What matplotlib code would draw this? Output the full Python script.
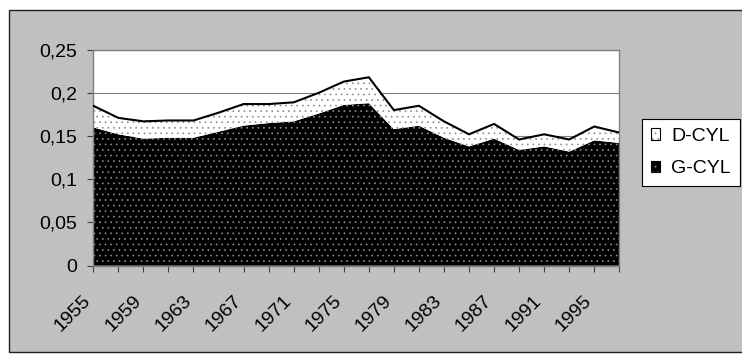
import matplotlib
matplotlib.use("Agg")
import matplotlib.pyplot as plt
import matplotlib.transforms as mtransforms
from matplotlib.patches import Patch, Rectangle
from matplotlib.legend_handler import HandlerTuple
import numpy as np

# every second year, 1955-1997
years = [1955, 1957, 1959, 1961, 1963, 1965, 1967, 1969, 1971, 1973, 1975,
         1977, 1979, 1981, 1983, 1985, 1987, 1989, 1991, 1993, 1995, 1997]

g_cyl = [0.160, 0.152, 0.147, 0.148, 0.148, 0.155, 0.162, 0.165, 0.167, 0.176, 0.186,
         0.188, 0.158, 0.162, 0.148, 0.138, 0.147, 0.134, 0.138, 0.132, 0.145, 0.142]
d_cyl = [0.025, 0.019, 0.020, 0.020, 0.020, 0.022, 0.025, 0.022, 0.022, 0.024, 0.027,
         0.030, 0.022, 0.023, 0.019, 0.014, 0.017, 0.012, 0.014, 0.014, 0.016, 0.012]

y_ticks = [0, 0.05, 0.1, 0.15, 0.2, 0.25]
y_labels = ['0', '0,05', '0,1', '0,15', '0,2', '0,25']

plt.rcParams['font.family'] = ['Liberation Sans', 'DejaVu Sans']
plt.rcParams['font.size'] = 14
plt.rcParams['hatch.color'] = '#8c8c8c'
plt.rcParams['hatch.linewidth'] = 0.5

W, H = 742, 361
fig = plt.figure(figsize=(W / 100, H / 100), dpi=100, facecolor='white')

# grey chart area with a dark frame
fig.add_artist(Rectangle((9 / W, 1 - 352 / H), (W - 9 + 5) / W, (352 - 10) / H,
                         transform=fig.transFigure, facecolor='#c0c0c0',
                         edgecolor='#202020', linewidth=1, zorder=0))

ax = fig.add_axes([93.3 / W, 1 - 265.7 / H, 526 / W, 216.1 / H])
ax.set_facecolor('white')

x = np.arange(len(years))
g = np.array(g_cyl)
total = g + np.array(d_cyl)

ax.fill_between(x, 0, g, facecolor='black', hatch='...', linewidth=0, zorder=2)
ax.fill_between(x, g, total, facecolor='white', hatch='...', linewidth=0, zorder=2)
ax.plot(x, total, color='black', lw=1.5, zorder=3, solid_joinstyle='miter')

ax.set_xlim(0, len(years) - 1)
ax.set_ylim(0, 0.25)
ax.set_yticks(y_ticks)
ax.set_yticklabels(y_labels)
ax.set_xticks(x)
ax.set_xticklabels([str(y) if i % 2 == 0 else '' for i, y in enumerate(years)],
                   rotation=45, ha='right', va='top', rotation_mode='anchor')

ax.yaxis.grid(True, color='#808080', lw=0.8)
ax.set_axisbelow(True)
for s in ax.spines.values():
    s.set_color('#808080')
    s.set_linewidth(1)

ax.tick_params(axis='y', direction='out', length=4, width=0.8, color='#404040', pad=7.7)
ax.tick_params(axis='x', direction='out', length=4, width=0.8, color='#404040', pad=15)

shift = mtransforms.ScaledTranslation(-11 / 100, 0, fig.dpi_scale_trans)
for lbl in ax.get_xticklabels():
    lbl.set_transform(lbl.get_transform() + shift)

# legend
d_handle = (Patch(facecolor='white', hatch='...', linewidth=0),
            Patch(facecolor='none', edgecolor='black', linewidth=0.8))
g_handle = (Patch(facecolor='black', hatch='...', linewidth=0),
            Patch(facecolor='none', edgecolor='black', linewidth=0.8))
leg = ax.legend([d_handle, g_handle], ['D-CYL', 'G-CYL'],
                handler_map={tuple: HandlerTuple(ndivide=1)},
                loc='upper left', bbox_to_anchor=(642 / W, 1 - 119 / H),
                bbox_transform=fig.transFigure, borderaxespad=0,
                handlelength=0.5, handleheight=0.55, handletextpad=0.55,
                labelspacing=0.8, borderpad=0.45, fancybox=False,
                framealpha=1, edgecolor='black')
leg.get_frame().set_linewidth(0.8)

fig.savefig('out.png', dpi=100, facecolor=fig.get_facecolor())
